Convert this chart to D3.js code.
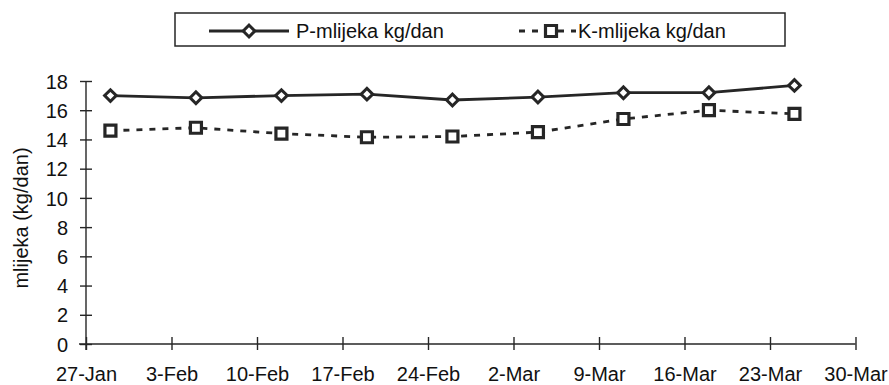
<!DOCTYPE html>
<html><head><meta charset="utf-8">
<script src="https://cdn.jsdelivr.net/npm/d3@7"></script>
<style>
html,body{margin:0;padding:0;background:#fff;}
svg{display:block;font-family:"Liberation Sans",Arial,sans-serif;}
</style></head>
<body><svg id="c" width="889" height="385"></svg>
<script>
const dates = ["2004-01-29","2004-02-05","2004-02-12","2004-02-19","2004-02-26","2004-03-04","2004-03-11","2004-03-18","2004-03-25"];
const pValues = [17.0, 16.85, 17.0, 17.1, 16.7, 16.9, 17.2, 17.2, 17.7];
const kValues = [14.6, 14.8, 14.4, 14.15, 14.2, 14.5, 15.4, 16.0, 15.75];
const yTicks = [0,2,4,6,8,10,12,14,16,18];
const xTickDates = ["2004-01-27","2004-02-03","2004-02-10","2004-02-17","2004-02-24","2004-03-02","2004-03-09","2004-03-16","2004-03-23","2004-03-30"];
const seriesNames = ["P-mlijeka kg/dan","K-mlijeka kg/dan"];
const yLabel = "mlijeka (kg/dan)";

const parse = d3.timeParse("%Y-%m-%d");
const svg = d3.select("#c");
const ink = "#262626";

const x = d3.scaleTime().domain([parse(xTickDates[0]), parse(xTickDates[xTickDates.length-1])]).range([86, 855.5]);
const y = d3.scaleLinear().domain([0,18]).range([344,81]);

// Y axis
const yAxis = d3.axisLeft(y).tickValues(yTicks).tickSizeInner(-6).tickSizeOuter(0).tickPadding(18);
const gy = svg.append("g").attr("transform","translate(86,0)").call(yAxis);
gy.selectAll(".tick line").clone().attr("x2",-6);
gy.select(".domain").attr("d","M0,"+y(18)+"V350");
gy.selectAll("path,line").attr("stroke",ink).attr("stroke-width",1.4);
gy.selectAll("text").attr("font-size",20).attr("fill","#111").attr("dy","0.36em");

// X axis
const xAxis = d3.axisBottom(x).tickValues(xTickDates.map(parse)).tickFormat(d3.timeFormat("%-d-%b"))
  .tickSizeInner(6).tickSizeOuter(0).tickPadding(17);
const gx = svg.append("g").attr("transform","translate(0,344)").call(xAxis);
gx.selectAll(".tick line").attr("y1",-7);
gx.select(".domain").attr("d","M79,0H855.5");
gx.selectAll("path,line").attr("stroke",ink).attr("stroke-width",1.4);
gx.selectAll("text").attr("font-size",20).attr("fill","#111");

// Y label
svg.append("text").attr("transform","translate(28,218) rotate(-90)").attr("text-anchor","middle")
  .attr("font-size",20).attr("fill","#111").text(yLabel);

const pts = (vals)=> dates.map((d,i)=>({x:x(parse(d)), y:y(vals[i])}));
const line = d3.line().x(d=>d.x).y(d=>d.y);

// K series (dashed, squares)
const kp = pts(kValues);
svg.append("path").attr("d",line(kp)).attr("fill","none").attr("stroke",ink).attr("stroke-width",2.8).attr("stroke-dasharray","6,7");
const sq = d3.symbol().type(d3.symbolSquare).size(121);
svg.selectAll(".k").data(kp).join("path").attr("transform",d=>`translate(${d.x},${d.y})`).attr("d",sq)
  .attr("fill","#fff").attr("stroke",ink).attr("stroke-width",3.2);

// P series (solid, diamonds)
const pp = pts(pValues);
svg.append("path").attr("d",line(pp)).attr("fill","none").attr("stroke",ink).attr("stroke-width",2.8);
const dm = d3.symbol().type(d3.symbolSquare).size(68);
svg.selectAll(".p").data(pp).join("path").attr("transform",d=>`translate(${d.x},${d.y}) rotate(45)`).attr("d",dm)
  .attr("fill","#fff").attr("stroke",ink).attr("stroke-width",3);

// Legend
const lg = svg.append("g");
lg.append("rect").attr("x",175).attr("y",13).attr("width",610).attr("height",33).attr("fill","#fff").attr("stroke",ink).attr("stroke-width",1.5);
lg.append("line").attr("x1",209).attr("x2",289).attr("y1",31).attr("y2",31).attr("stroke",ink).attr("stroke-width",2.8);
lg.append("path").attr("transform","translate(249,31) rotate(45)").attr("d",dm).attr("fill","#fff").attr("stroke",ink).attr("stroke-width",3);
lg.append("text").attr("x",296).attr("y",31).attr("dy","0.36em").attr("font-size",20).attr("fill","#111").text(seriesNames[0]);
lg.append("line").attr("x1",519).attr("x2",576).attr("y1",31).attr("y2",31).attr("stroke",ink).attr("stroke-width",2.8).attr("stroke-dasharray","6,7");
lg.append("path").attr("transform","translate(551,31)").attr("d",sq).attr("fill","#fff").attr("stroke",ink).attr("stroke-width",3.2);
lg.append("text").attr("x",578).attr("y",31).attr("dy","0.36em").attr("font-size",20).attr("fill","#111").text(seriesNames[1]);
</script></body></html>
